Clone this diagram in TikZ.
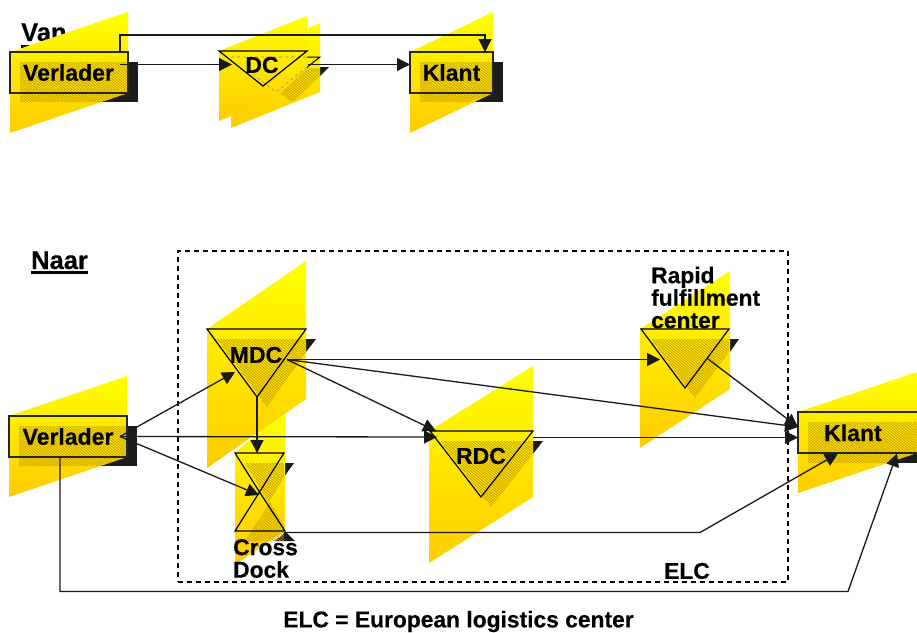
\documentclass[tikz,border=0pt]{standalone}
\usepackage{fontspec}
\setmainfont{Liberation Sans}[BoldFeatures={FakeBold=0.35}]
\usetikzlibrary{arrows.meta,patterns.meta,calc}
\definecolor{ygold}{RGB}{255,204,0}
\definecolor{ytop}{RGB}{255,255,0}
\definecolor{shadowk}{RGB}{28,28,28}
\definecolor{hatchc}{RGB}{196,160,0}
\tikzset{
  x=1pt,y=-1pt,
  plane/.style={top color=ytop,bottom color=ygold,draw=none},
  shadowfill/.style={fill=shadowk,draw=none},
  hatch/.style={pattern={Lines[angle=-40,distance=2pt,line width=.8pt]},pattern color=hatchc,draw=none},
  boxnode/.style={draw=black!85,line width=1.2pt,inner sep=0pt},
  tri/.style={draw=black,line width=1.2pt,line join=miter},
  lab/.style={font=\bfseries\fontsize{23}{23}\selectfont,inner sep=0pt,text=black},
  head/.style={font=\bfseries\fontsize{25.5}{25.5}\selectfont,inner sep=0pt,text=black},
  small/.style={font=\bfseries\fontsize{22.8}{22.5}\selectfont,inner sep=0pt,text=black,align=left},
  conn/.style={draw=black!90,line width=1.3pt,-{Triangle[length=13pt,width=13pt]}},
}
\newcommand{\Pgram}[6]{\shade[plane] (#1,#2) -- (#3,#4) -- (#3,#5) -- (#1,#6) -- cycle;}
\begin{document}
\begin{tikzpicture}
\useasboundingbox (0,0) rectangle (917,632);
% --- Van header (partly hidden by the plane)
\node[head,anchor=base west] (van) at (21,41) {Van};
\fill (21,45) rectangle (68,48);
% --- Top row shadows
\fill[shadowfill] (20,62) rectangle (138,102);
\fill[shadowfill] (320,67) -- (329,67) -- (320,76) -- cycle;
\fill[shadowfill] (420,62) rectangle (503,102);
% planes
\Pgram{10}{52}{128}{12}{93}{133}
\Pgram{231}{62}{320}{23}{92}{128}
\draw[tri,line width=1pt] (276,92) -- (231,57) -- (320,57) -- cycle;
\Pgram{219}{51}{307}{16}{86}{121}
\Pgram{410}{52}{493}{12}{93}{133}
% hatch
\fill[hatch] (20,62) -- (128,62) -- (128,93) -- (100,102) -- (20,102) -- cycle;
\fill[hatch] (420,62) -- (493,62) -- (493,93) -- (470,102) -- (420,102) -- cycle;
\fill[hatch] (307,68) -- (320,68) -- (320,76) -- (293,102) -- (280,94) -- cycle;
\draw[black!45,dashed,line width=.6pt] (231,57) -- (307,57) (307,67) -- (276,92) -- (250,72);
% boxes
\node[boxnode,minimum width=118pt,minimum height=41pt] (v1) at (69,72.5) {};
\node[boxnode,minimum width=83pt,minimum height=41pt] (k1) at (451.5,72.5) {};
\coordinate (dcA) at (219,51); \coordinate (dcB) at (307,51); \coordinate (dcC) at (263,86);
\draw[tri] (dcA) -- (dcB) -- (dcC) -- cycle;
\node[lab] (dc) at (262,65) {DC};
\node[lab] at (68.5,72.5) {Verlader};
\node[lab] at (451.5,72.5) {Klant};
% top connectors
\coordinate (v1o) at (120,64.5); \coordinate (v1t) at (120,52);
\coordinate (dcin) at (232,64.5); \coordinate (dcout) at (308,64.5);
\coordinate (k1in) at (410,64.5); \coordinate (k1t) at (485,52);
\draw[conn] (v1o) -- (dcin);
\draw[conn] (dcout) -- (k1in);
\draw[conn] (v1t) |- (300,35) -| (k1t);
% --- Naar
\node[head,anchor=base west] (naar) at (31,269) {Naar};
\fill (31,271) rectangle (88,273.5);
% dashed ELC box
\node[draw=black,line width=1.3pt,dash pattern=on 5pt off 4pt,minimum width=610pt,minimum height=331pt,inner sep=0pt] (elc) at (483,416.5) {};
% --- lower shadows
\fill[shadowfill] (19,426) rectangle (137,466);
\fill[shadowfill] (306,339) -- (316,339) -- (306,352) -- cycle;
\fill[shadowfill] (284,463) -- (294,463) -- (284,477) -- cycle;
\fill[shadowfill] (286,532) -- (295,541) -- (275,541) -- cycle;
\fill[shadowfill] (533,441) -- (543,441) -- (533,454) -- cycle;
\fill[shadowfill] (729,339) -- (739,339) -- (730,352) -- cycle;
\fill[shadowfill] (808,422) rectangle (930,463);
% planes
\Pgram{9}{416}{127}{376}{457}{497}
\Pgram{235}{453}{285}{410}{530}{565}
\Pgram{207}{329}{306}{261}{399}{468}
\Pgram{429}{431}{533}{366}{497}{563}
\Pgram{640}{329}{730}{271}{389}{448}
\Pgram{798}{412}{917}{372}{453}{493}
% hatch
\fill[hatch] (19,426) -- (127,426) -- (127,457) -- (100,466) -- (19,466) -- cycle;
\fill[hatch] (808,422) -- (917,422) -- (917,453) -- (886,463) -- (808,463) -- cycle;
\fill[hatch] (217,339) -- (306,339) -- (306,352) -- (267,407) -- cycle;
\fill[hatch] (440,441) -- (533,441) -- (533,454) -- (491,507) -- cycle;
\fill[hatch] (651,339) -- (729,339) -- (729,352) -- (695,398) -- cycle;
\fill[hatch] (245,463) -- (284,463) -- (284,477) -- (269,503) -- cycle;
\fill[hatch] (270,502) -- (284,525) -- (284,541) -- (245,541) -- cycle;
% boxes
\node[boxnode,minimum width=118pt,minimum height=41pt] (v2) at (68,436.5) {};
\node[boxnode,minimum width=130pt,minimum height=41pt] (k2) at (863,432.5) {};
% triangles
\coordinate (mA) at (207,329); \coordinate (mB) at (306,329); \coordinate (mC) at (257,397);
\draw[tri] (mA) -- (mB) -- (mC) -- cycle;
\coordinate (rA) at (430,431); \coordinate (rB) at (533,431); \coordinate (rC) at (481,497);
\draw[tri] (rA) -- (rB) -- (rC) -- cycle;
\coordinate (fA) at (641,329); \coordinate (fB) at (729,329); \coordinate (fC) at (685,388);
\draw[tri] (fA) -- (fB) -- (fC) -- cycle;
\coordinate (cA) at (235,453); \coordinate (cB) at (284,453); \coordinate (cC) at (259.5,492);
\draw[tri] (cA) -- (cB) -- (cC) -- cycle;
\coordinate (dA) at (235,531); \coordinate (dB) at (285,531);
\draw[tri] (dA) -- (dB) -- (cC) -- cycle;
% labels
\node[lab] (vt) at (68,436.5) {Verlader};
\node[lab,anchor=base west] (kt) at (824,441) {Klant};
\node[lab] (mdc) at (256,355) {MDC};
\node[lab] (rdc) at (481,456) {RDC};
\node[small,anchor=north west] (rf) at (651,266.5) {Rapid\\fulfillment\\center};
\node[small,anchor=north west] (cd) at (233,539) {Cross\\Dock};
\node[small] (elct) at (687,571) {ELC};
\node[small] (elcn) at (458.5,621.5) {ELC = European logistics center};
% connector ends
\coordinate (vo) at (120,436.5);
\coordinate (mi) at (235,372); \coordinate (mo) at (287,359.5);
\coordinate (ci) at (259,495); \coordinate (ct) at (257,453); \coordinate (co) at (284,532.5);
\coordinate (ri) at (437,437); \coordinate (rt) at (436,431); \coordinate (ro) at (533,437.5);
\coordinate (fi) at (660,359.5); \coordinate (fo) at (708,359);
\coordinate (ka) at (798,427); \coordinate (kb) at (798,437.5); \coordinate (kc) at (838,453.5); \coordinate (kd) at (897,453.5);
\coordinate (vb) at (60,457);
\draw[conn] (vo) -- (mi);
\draw[conn] (vo) -- (ri);
\draw[conn] (vo) -- (ci);
\draw[conn] (mC) -- (ct);
\draw[conn] (mo) -- (fi);
\draw[conn] (mo) -- (ka);
\draw[conn] (mo) -- (rt);
\draw[conn] (fo) -- (ka);
\draw[conn] (ro) -- (kb);
\draw[conn] (co) -- (700,532.5) -- (kc);
\draw[conn] (vb) -- (60,591.5) -- (848,591.5) -- (kd);
\end{tikzpicture}
\end{document}
